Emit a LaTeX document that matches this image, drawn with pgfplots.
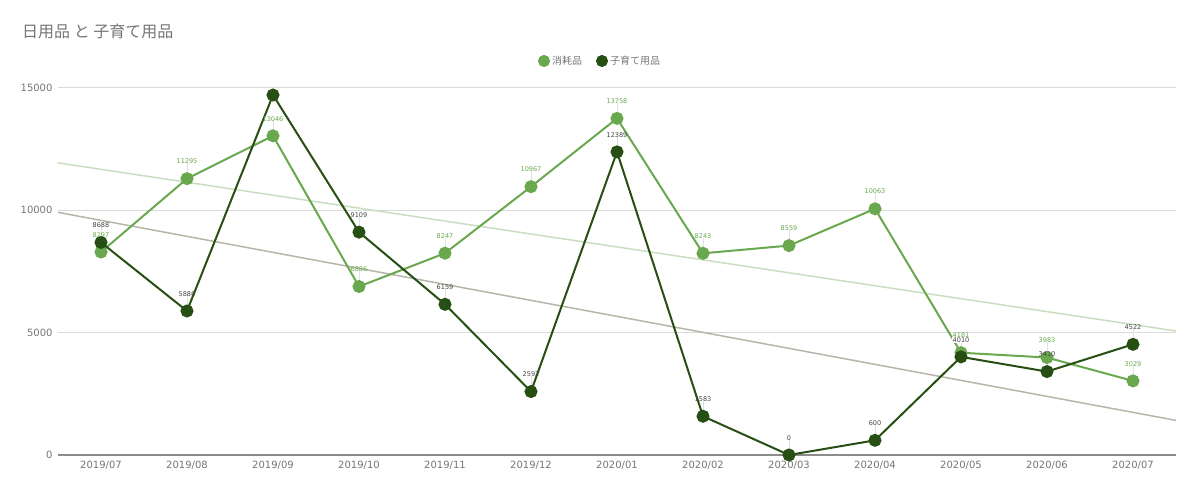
\documentclass[border=0pt]{standalone}
\usepackage{pgfplots}
\usepackage{pgfplotstable}
\pgfplotsset{compat=1.18}
\usepackage{fontspec}
\setmainfont{DejaVu Sans}
\newfontfamily\jp{Noto Sans CJK JP}
\definecolor{cons}{HTML}{6AA84F}
\definecolor{kids}{HTML}{274E13}
\definecolor{trendA}{HTML}{C8DEBF}
\definecolor{trendB}{HTML}{B5B6A8}
\definecolor{txt}{HTML}{757575}
\definecolor{gridc}{HTML}{DADADA}
\definecolor{basec}{HTML}{8C8C8C}
\definecolor{labc}{HTML}{444444}

\pgfplotstableread{
x y
0 8297
1 11295
2 13046
3 6886
4 8247
5 10967
6 13758
7 8243
8 8559
9 10063
10 4181
11 3983
12 3029
}\tabCons

\pgfplotstableread{
x y
0 8688
1 5886
2 14713
3 9109
4 6159
5 2592
6 12389
7 1583
8 0
9 600
10 4010
11 3410
12 4522
}\tabKids

\pgfplotstableread{
x y
0 8688
1 5886
3 9109
4 6159
5 2592
6 12389
7 1583
8 0
9 600
11 3410
12 4522
}\tabKidsLab

\pgfplotstableread{
x y
10 4010
}\tabKidsLabB

\pgfplotsset{
  common/.style={
    at={(58bp,37bp)}, anchor=south west, scale only axis,
    width=1118bp, height=367bp,
    xmin=-0.5, xmax=12.5, ymin=0, ymax=15000,
    clip=false,
    /pgf/number format/.cd, 1000 sep={}, assume math mode=true, /pgfplots/.cd,
  }
}

\begin{document}
\begin{tikzpicture}
\useasboundingbox (0,0) rectangle (1200bp,492bp);
\node[anchor=west, text=txt, font=\jp\fontsize{16bp}{18bp}\selectfont, inner sep=0] at (22bp,461bp) {日用品 と 子育て用品};
\begin{axis}[
  common,
  axis line style={draw=none}, tick style={draw=none},
  xtick={0,...,12},
  xticklabels={2019/07,2019/08,2019/09,2019/10,2019/11,2019/12,2020/01,2020/02,2020/03,2020/04,2020/05,2020/06,2020/07},
  ytick={5000,10000,15000},
  scaled y ticks=false,
  ymajorgrids,
  major grid style={gridc, line width=1bp},
  extra y ticks={0},
  extra y tick style={major grid style={basec, line width=2bp}},
  ticklabel style={font=\fontsize{10bp}{12bp}\selectfont, text=txt},
  xticklabel style={yshift=-3bp},
  yticklabel style={xshift=-2bp},
  legend style={at={(axis description cs:0.4848,1.0736)}, anchor=center, draw=none, fill=none,
    legend columns=2, font=\jp\fontsize{10bp}{12bp}\selectfont, text=txt,
    /tikz/every even column/.append style={column sep=12bp}},
  legend image code/.code={\fill[#1] (2bp,0bp) circle (5bp);},
]
\addplot[trendA, line width=1.5bp, forget plot] coordinates {(-0.5,11940) (12.5,5068)};
\addplot[trendB, line width=1.5bp, forget plot] coordinates {(-0.5,9917) (12.5,1415)};

\addplot[only marks, mark=|, mark size=4.5bp, mark options={yshift=11bp, draw=black!12, line width=0.6bp}, forget plot] table {\tabCons};
\addplot[only marks, mark=|, mark size=4.5bp, mark options={yshift=11bp, draw=black!12, line width=0.6bp}, forget plot] table {\tabKidsLab};

\addplot[color=cons, line width=2bp, mark=*, mark size=5.5bp] table {\tabCons};
\addplot[color=kids, line width=2bp, mark=*, mark size=5.5bp] table {\tabKids};

\legend{消耗品, 子育て用品}
\end{axis}
\begin{axis}[common, hide axis]
\addplot[draw=none, mark=none, point meta=y, nodes near coords,
  every node near coord/.append style={anchor=south, yshift=14bp, inner sep=0.5bp, text=cons, font=\fontsize{6.5bp}{7bp}\selectfont}] table {\tabCons};
\addplot[draw=none, mark=none, point meta=y, nodes near coords,
  every node near coord/.append style={anchor=south, yshift=14bp, inner sep=0.5bp, text=labc, font=\fontsize{6.5bp}{7bp}\selectfont}] table {\tabKidsLab};
\addplot[draw=none, mark=none, point meta=y, nodes near coords,
  every node near coord/.append style={anchor=south, yshift=14bp, inner sep=0.5bp, fill=white, text=labc, font=\fontsize{6.5bp}{7bp}\selectfont}] table {\tabKidsLabB};
\end{axis}
\end{tikzpicture}
\end{document}
